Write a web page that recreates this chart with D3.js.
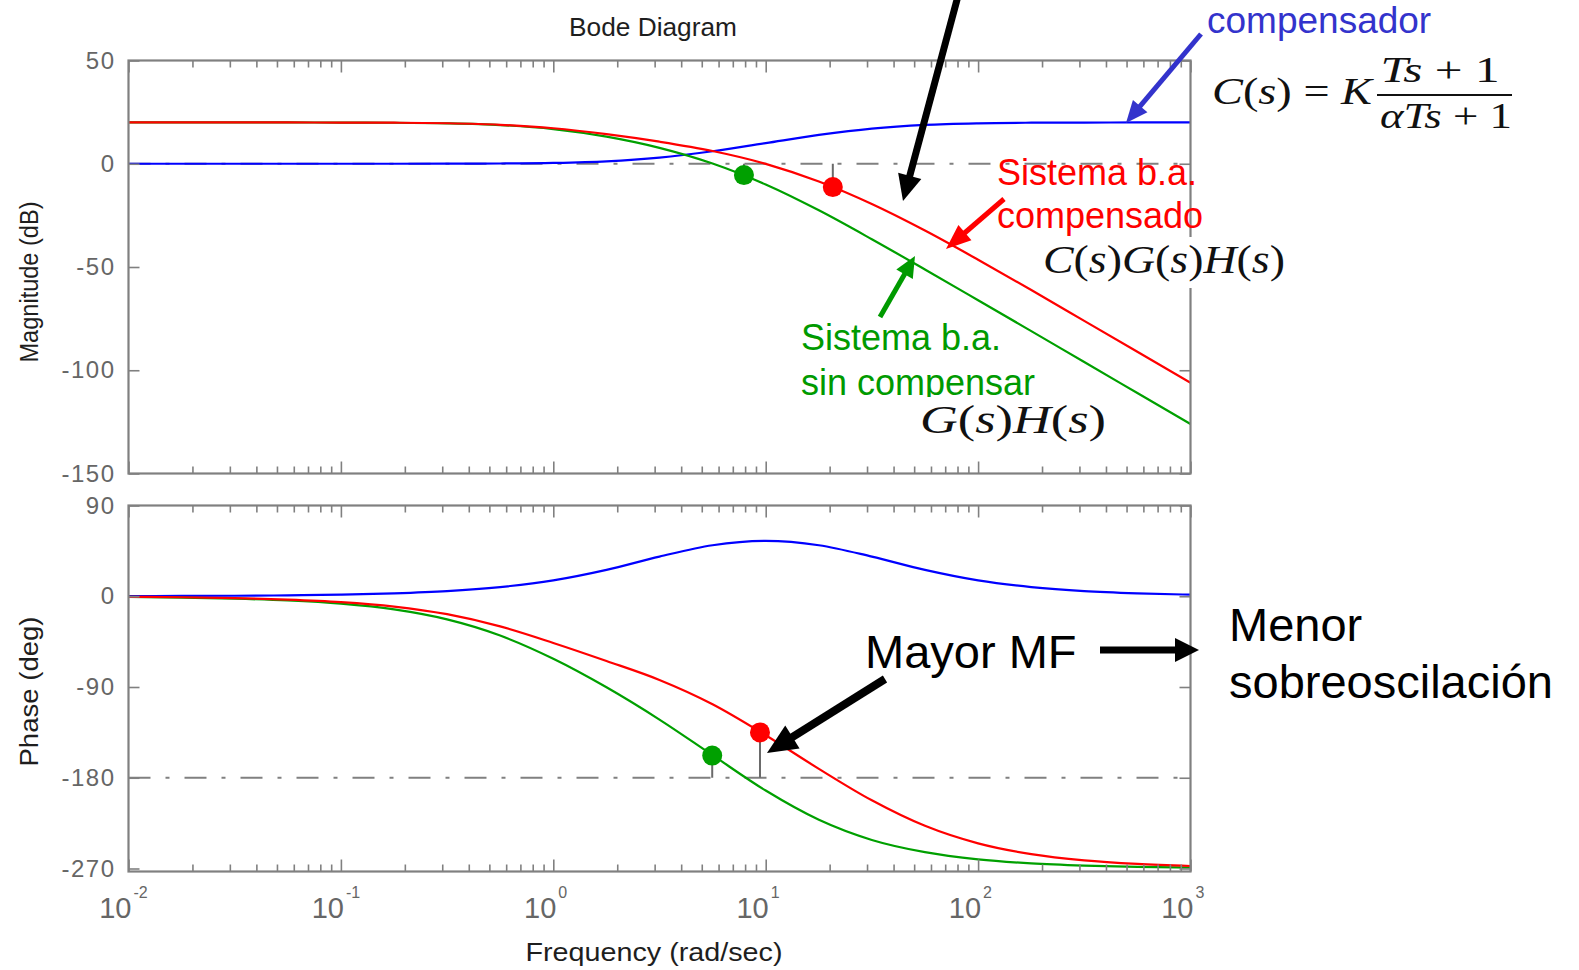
<!DOCTYPE html>
<html>
<head>
<meta charset="utf-8">
<script src="https://cdn.jsdelivr.net/npm/d3@7"></script>
<style>
  html, body { margin: 0; padding: 0; background: #ffffff; }
  svg { display: block; }
</style>
</head>
<body>
<svg id="chart" width="1579" height="970"></svg>
<script>
// ---- data -------------------------------------------------------------
// frequency grid (rad/s), quarter-decade steps
const freq = [0.01, 0.0178, 0.0316, 0.0562, 0.1, 0.178, 0.316, 0.562, 1, 1.78, 3.16,
              5.62, 10, 17.8, 31.6, 56.2, 100, 178, 316, 562, 1000];

// magnitude (dB)
const magLead  = [0, 0, 0, 0, 0, 0.01, 0.04, 0.13, 0.41, 1.18, 2.97,
                  6.06, 10.0, 13.94, 17.03, 18.82, 19.59, 19.87, 19.96, 19.99, 20.0];
const magPlant = [20.0, 20.0, 20.0, 19.99, 19.95, 19.86, 19.56, 18.74, 16.78, 13.15, 7.71,
                  0.12, -10.04, -22.56, -36.55, -51.19, -66.08, -81.04, -96.03, -111.02, -126.02];
const magComp  = [20.0, 20.0, 20.0, 19.99, 19.96, 19.87, 19.61, 18.87, 17.19, 14.33, 10.68,
                  6.18, -0.04, -8.62, -19.52, -32.37, -46.49, -61.17, -76.07, -91.03, -106.02];

// phase (deg)
const phLead  = [0.2, 0.3, 0.5, 0.9, 1.6, 2.9, 5.1, 9.1, 15.7, 26.1, 39.3,
                 50.6, 54.9, 50.6, 39.3, 26.1, 15.7, 9.1, 5.1, 2.9, 1.6];
const phPlant = [-0.7, -1.3, -2.4, -4.2, -7.4, -13.1, -23.0, -39.0, -62.0, -90.3, -122.3,
                 -157.6, -192.7, -221.7, -241.7, -253.8, -260.9, -264.9, -267.1, -268.4, -269.1];
const phComp  = [-0.6, -1.0, -1.8, -3.3, -5.8, -10.2, -17.8, -29.9, -46.3, -64.2, -83.0,
                 -107.1, -137.8, -171.2, -202.4, -227.7, -245.1, -255.8, -262.0, -265.5, -267.5];

// stability margins: [G(s)H(s), C(s)G(s)H(s)]
const gmFreq  = [7.9, 20.7];     // phase crossover (rad/s)
const gmMag   = [-5.5, -11.3];   // magnitude there (dB)
const pmFreq  = [5.6, 9.4];      // gain crossover (rad/s)
const pmPhase = [-158, -135];    // phase there (deg)
const marginColors = ["#00a000", "#ff0000"];

// axis ticks
const magTicks   = [50, 0, -50, -100, -150];
const phaseTicks = [90, 0, -90, -180, -270];
const decadeExp  = [-2, -1, 0, 1, 2, 3];

// ---- layout -----------------------------------------------------------
const L = 128.5, R = 1190.5;
const svg = d3.select("#chart");

const x    = d3.scaleLog().domain([0.01, 1000]).range([L, R]);
const yMag = d3.scaleLinear().domain([-150, 50]).range([473.5, 60.5]);
const yPh  = d3.scaleLinear().domain([-270, 90]).range([868.5, 505.5]);

const panels = [
  { key: "mag", y: yMag, top: 60.5,  bottom: 473.5, ticks: magTicks,   ref: 0,
    field: "mag" },
  { key: "ph",  y: yPh,  top: 505.5, bottom: 871.5, ticks: phaseTicks, ref: -180,
    field: "ph" }
];

const series = [
  { mag: magLead,  ph: phLead,  color: "#0000ff" },
  { mag: magPlant, ph: phPlant, color: "#00a000" },
  { mag: magComp,  ph: phComp,  color: "#ff0000" }
];

const axisGray = "#808080";
const tickFont = "Liberation Sans, Arial, sans-serif";

const defs = svg.append("defs");
panels.forEach(p => {
  defs.append("clipPath").attr("id", "clip-" + p.key)
    .append("rect").attr("x", L).attr("y", p.top)
    .attr("width", R - L).attr("height", p.bottom - p.top);
});

const allTicks = x.ticks();
const isDecade = d => Math.abs(Math.log10(d) - Math.round(Math.log10(d))) < 1e-6;
const majorX = allTicks.filter(isDecade);
const minorX = allTicks.filter(d => !isDecade(d));

function styleAxis(g) {
  g.select(".domain").remove();
  g.selectAll(".tick line").attr("stroke", axisGray).attr("stroke-width", 1.6);
  g.selectAll(".tick text")
    .attr("fill", "#666666")
    .attr("font-family", tickFont)
    .attr("font-size", 24)
    .attr("letter-spacing", 1.5);
}

panels.forEach(p => {
  const g = svg.append("g");
  const plot = g.append("g").attr("clip-path", `url(#clip-${p.key})`);

  // reference line (0 dB / -180 deg)
  plot.append("line")
    .attr("x1", L).attr("x2", R)
    .attr("y1", p.y(p.ref)).attr("y2", p.y(p.ref))
    .attr("stroke", axisGray).attr("stroke-width", 2.2)
    .attr("stroke-dasharray", "22,15,4,15");

  // margin stems
  const mf = p.key === "mag" ? gmFreq : pmFreq;
  const mv = p.key === "mag" ? gmMag : pmPhase;
  mf.forEach((f, i) => {
    plot.append("line")
      .attr("x1", x(f)).attr("x2", x(f))
      .attr("y1", p.y(p.ref)).attr("y2", p.y(mv[i]))
      .attr("stroke", "#6a6a6a").attr("stroke-width", 2);
  });

  // response curves
  const line = d3.line()
    .x(d => x(d[0])).y(d => p.y(d[1]))
    .curve(d3.curveMonotoneX);
  series.forEach(s => {
    plot.append("path")
      .datum(freq.map((f, i) => [f, s[p.field][i]]))
      .attr("d", line)
      .attr("fill", "none")
      .attr("stroke", s.color)
      .attr("stroke-width", 2.2)
      .attr("stroke-linejoin", "round");
  });

  // margin markers
  mf.forEach((f, i) => {
    plot.append("circle")
      .attr("cx", x(f)).attr("cy", p.y(mv[i])).attr("r", 10)
      .attr("fill", marginColors[i]);
  });

  // ticks: bottom, top, left, right (all pointing inward)
  g.append("g").attr("transform", `translate(0,${p.bottom})`)
    .call(d3.axisBottom(x).tickValues(majorX).tickSize(-12).tickFormat("")).call(styleAxis);
  g.append("g").attr("transform", `translate(0,${p.bottom})`)
    .call(d3.axisBottom(x).tickValues(minorX).tickSize(-7).tickFormat("")).call(styleAxis);
  g.append("g").attr("transform", `translate(0,${p.top})`)
    .call(d3.axisTop(x).tickValues(majorX).tickSize(-12).tickFormat("")).call(styleAxis);
  g.append("g").attr("transform", `translate(0,${p.top})`)
    .call(d3.axisTop(x).tickValues(minorX).tickSize(-7).tickFormat("")).call(styleAxis);
  g.append("g").attr("transform", `translate(${L},0)`)
    .call(d3.axisLeft(p.y).tickValues(p.ticks).tickSize(-11).tickPadding(13)
      .tickFormat(d => String(d))).call(styleAxis);
  g.append("g").attr("transform", `translate(${R},0)`)
    .call(d3.axisRight(p.y).tickValues(p.ticks).tickSize(-11).tickFormat("")).call(styleAxis);

  // frame
  g.append("rect")
    .attr("x", L).attr("y", p.top)
    .attr("width", R - L).attr("height", p.bottom - p.top)
    .attr("fill", "none").attr("stroke", axisGray).attr("stroke-width", 2.2);
});

// x tick labels 10^n under the phase panel
const xl = svg.append("g").attr("font-family", tickFont).attr("fill", "#666666");
decadeExp.forEach(n => {
  const px = x(Math.pow(10, n));
  xl.append("text").attr("x", px + 3).attr("y", 918)
    .attr("text-anchor", "end").attr("font-size", 29).text("10");
  xl.append("text").attr("x", px + 5).attr("y", 898)
    .attr("font-size", 16).text(String(n).replace("-", "-"));
});

// titles and axis labels
const lab = svg.append("g").attr("font-family", tickFont).attr("fill", "#1e1e1e");
lab.append("text").attr("x", 653).attr("y", 36).attr("text-anchor", "middle")
  .attr("font-size", 25).attr("textLength", 168).attr("lengthAdjust", "spacingAndGlyphs")
  .text("Bode Diagram");
lab.append("text").attr("transform", "translate(38,282) rotate(-90)")
  .attr("text-anchor", "middle").attr("font-size", 25)
  .attr("textLength", 161).attr("lengthAdjust", "spacingAndGlyphs")
  .text("Magnitude (dB)");
lab.append("text").attr("transform", "translate(38,691.5) rotate(-90)")
  .attr("text-anchor", "middle").attr("font-size", 25)
  .attr("textLength", 150).attr("lengthAdjust", "spacingAndGlyphs")
  .text("Phase (deg)");
lab.append("text").attr("x", 654).attr("y", 961).attr("text-anchor", "middle")
  .attr("font-size", 25).attr("textLength", 257).attr("lengthAdjust", "spacingAndGlyphs")
  .text("Frequency (rad/sec)");

// ---- annotations ------------------------------------------------------
const ann = svg.append("g");
const sans = "Liberation Sans, Arial, sans-serif";
const serif = "Liberation Serif, Times New Roman, serif";

function arrow(x1, y1, x2, y2, color, w, hl, hw) {
  const dx = x2 - x1, dy = y2 - y1, len = Math.hypot(dx, dy);
  const ux = dx / len, uy = dy / len;
  const bx = x2 - ux * hl, by = y2 - uy * hl;
  ann.append("line")
    .attr("x1", x1).attr("y1", y1).attr("x2", bx + ux * 2).attr("y2", by + uy * 2)
    .attr("stroke", color).attr("stroke-width", w);
  const pts = [[x2, y2], [bx - uy * hw / 2, by + ux * hw / 2], [bx + uy * hw / 2, by - ux * hw / 2]];
  ann.append("polygon").attr("points", pts.map(q => q.join(",")).join(" "))
    .attr("fill", color);
}

function label(txt, px, py, size, color) {
  ann.append("text").attr("x", px).attr("y", py)
    .attr("font-family", sans).attr("font-size", size).attr("fill", color).text(txt);
}

// math label built from pieces: [text, italic?]
function math(parts, px, py, size, len, anchor) {
  const t = ann.append("text").attr("x", px).attr("y", py)
    .attr("font-family", serif).attr("font-size", size).attr("fill", "#111111")
    .attr("text-anchor", anchor || "start");
  if (len) t.attr("textLength", len).attr("lengthAdjust", "spacingAndGlyphs");
  parts.forEach(([s, it]) => t.append("tspan").attr("font-style", it ? "italic" : "normal").text(s));
  return t;
}

// white backing of the formula labels
ann.append("rect").attr("x", 905).attr("y", 397).attr("width", 207).attr("height", 55).attr("fill", "#ffffff");

// compensator label and transfer function
label("compensador", 1207, 33, 37, "#3333cc");
arrow(1201, 34, 1126, 123, "#3333cc", 5, 22, 19);
math([["C", 1], ["(", 0], ["s", 1], [")", 0], [" = ", 0], ["K", 1]], 1212, 104, 38, 160);
math([["T", 1], ["s", 1], [" + 1", 0]], 1440, 82, 36, 119, "middle");
math([["\u03b1", 1], ["T", 1], ["s", 1], [" + 1", 0]], 1446, 128, 36, 132, "middle");
ann.append("line").attr("x1", 1377).attr("x2", 1512).attr("y1", 95).attr("y2", 95)
  .attr("stroke", "#111111").attr("stroke-width", 2);

// compensated open loop
label("Sistema b.a.", 997, 185, 36, "#ff0000");
label("compensado", 997, 228, 36, "#ff0000");
arrow(1004, 199, 946, 249, "#ff0000", 5, 25, 20);
ann.append("rect").attr("x", 1038).attr("y", 237).attr("width", 254).attr("height", 51).attr("fill", "#ffffff");
math([["C", 1], ["(", 0], ["s", 1], [")", 0], ["G", 1], ["(", 0], ["s", 1], [")", 0], ["H", 1], ["(", 0], ["s", 1], [")", 0]],
     1043, 273, 40, 242);

// uncompensated open loop
label("Sistema b.a.", 801, 350, 36, "#009a00");
label("sin compensar", 801, 395, 36, "#009a00");
ann.append("rect").attr("x", 790).attr("y", 397).attr("width", 322).attr("height", 55).attr("fill", "#ffffff");
math([["G", 1], ["(", 0], ["s", 1], [")", 0], ["H", 1], ["(", 0], ["s", 1], [")", 0]], 920, 433, 40, 186);
arrow(880, 317, 915, 256, "#009a00", 5, 21, 19);

// arrow coming down onto the compensated magnitude
arrow(958, -4, 903, 201, "#000000", 7, 26, 24);

// phase margin notes
label("Mayor MF", 865, 668, 47, "#000000");
arrow(885, 679, 767, 753, "#000000", 8, 30, 27);
arrow(1100, 650, 1199, 650, "#000000", 7, 24, 24);
label("Menor", 1229, 641, 47, "#000000");
label("sobreoscilación", 1229, 698, 47, "#000000");
</script>
</body>
</html>
